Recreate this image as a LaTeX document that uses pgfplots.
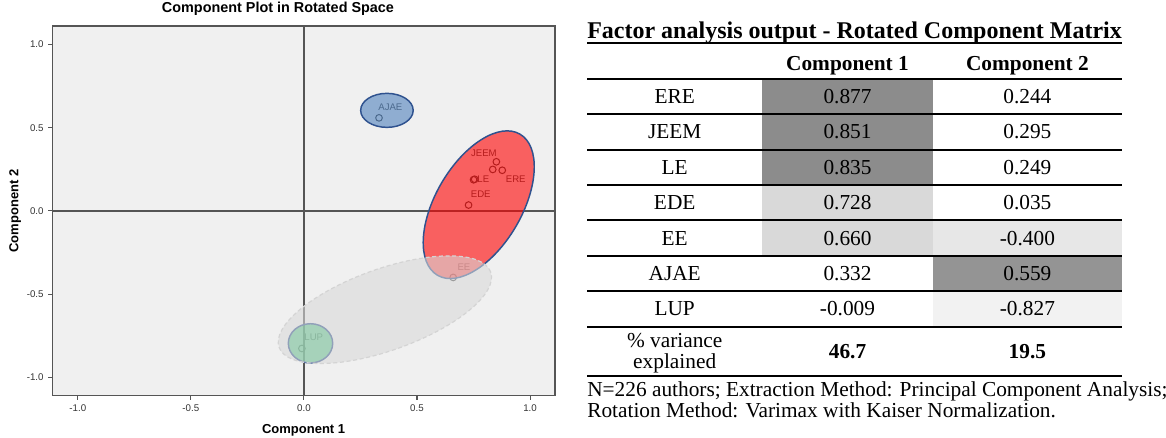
\documentclass[border=0pt]{standalone}
\usepackage{pgfplots}
\pgfplotsset{compat=1.18}
\usepackage{fontspec}
\setmainfont{Liberation Serif}
\newfontfamily\arial{Liberation Sans}
\usetikzlibrary{shapes.geometric}
\definecolor{bgc}{RGB}{240,240,240}
\definecolor{frm}{RGB}{85,85,85}
\definecolor{ptc}{RGB}{70,70,70}
\definecolor{olblue}{RGB}{47,82,143}
\definecolor{fblue}{RGB}{79,129,189}
\definecolor{fgreen}{RGB}{0,176,80}
\definecolor{fgray}{RGB}{217,217,217}
\definecolor{dgray}{RGB}{212,212,212}
\definecolor{sdark}{RGB}{140,140,140}
\definecolor{sdarkb}{RGB}{148,148,148}
\definecolor{smid}{RGB}{217,217,217}
\definecolor{slight}{RGB}{231,231,231}
\definecolor{svlight}{RGB}{242,242,242}
\pgfplotsset{myframe/.style={
  at={(39.2pt,-296.8pt)}, anchor=south west,
  scale only axis, width=377pt, height=277.3pt,
  xmin=-1.113, xmax=1.110, ymin=-1.111, ymax=1.111}}
\begin{document}
\begin{tikzpicture}
\path[use as bounding box] (0,0) rectangle (874.5pt,-328.5pt);
\begin{axis}[
  myframe,
  axis background/.style={fill=bgc},
  axis line style={draw=frm, line width=1.1pt},
  xtick={-1,-0.5,0,0.5,1}, ytick={-1,-0.5,0,0.5,1},
  xticklabels={-1.0,-0.5,0.0,0.5,1.0},
  yticklabels={-1.0,-0.5,0.0,0.5,1.0},
  xtick pos=bottom, ytick pos=left,
  tick align=outside, major tick length=3pt,
  tick style={draw=frm, line width=0.8pt},
  ticklabel style={font=\arial\fontsize{7.3}{8}\selectfont, text=black!80},
  title={Component Plot in Rotated Space},
  title style={font=\arial\bfseries\fontsize{10.8}{12}\selectfont, at={(axis description cs:0.449,1.0162)}, anchor=base},
  xlabel={Component 1},
  xlabel style={font=\arial\bfseries\fontsize{9.75}{11}\selectfont, at={(axis description cs:0.5,-0.1017)}, anchor=base},
  ylabel={Component 2},
  ylabel style={font=\arial\bfseries\fontsize{9.75}{11}\selectfont, at={(axis description cs:-0.0676,0.5)}, anchor=base, rotate=0},
  clip=true,
]
\draw[frm, line width=1pt] (axis cs:0,-1.2) -- (axis cs:0,1.2);
\draw[frm, line width=1pt] (axis cs:-1.2,0) -- (axis cs:1.2,0);
\addplot[only marks, mark=o, mark size=2.5pt, mark options={draw=ptc, line width=0.75pt}]
  coordinates {(0.877,0.244)(0.851,0.295)(0.835,0.249)(0.728,0.035)(0.660,-0.400)(0.332,0.559)(-0.009,-0.827)(0.750,0.187)(0.755,0.190)};
\begin{scope}[every node/.style={anchor=west, inner sep=0pt, font=\arial\fontsize{7.2}{8}\selectfont, text=ptc}]
\node at (axis cs:0.738,0.349) {JEEM};
\node at (axis cs:0.766,0.189) {LE};
\node at (axis cs:0.892,0.189) {ERE};
\node at (axis cs:0.737,0.099) {EDE};
\node at (axis cs:0.678,-0.341) {EE};
\node at (axis cs:0.328,0.622) {AJAE};
\node at (axis cs:0.001,-0.758) {LUP};
\end{scope}
\end{axis}
\begin{axis}[myframe, hide axis, clip=true]
\node[ellipse, draw=olblue, line width=1.1pt, fill=red, fill opacity=0.6, inner sep=0pt, outer sep=0pt, minimum width=122.6pt, minimum height=64.6pt, rotate=59.7] at (axis cs:0.773,0.037) {};
\node[ellipse, draw=olblue, line width=1.1pt, fill=fblue, fill opacity=0.6, inner sep=0pt, outer sep=0pt, minimum width=39.4pt, minimum height=25.5pt] at (axis cs:0.367,0.604) {};
\node[ellipse, draw=olblue, line width=1.1pt, fill=fgreen, fill opacity=0.6, inner sep=0pt, outer sep=0pt, minimum width=33.3pt, minimum height=29.4pt] at (axis cs:0.029,-0.796) {};
\node[ellipse, draw=dgray, line width=0.9pt, dash pattern=on 3pt off 2pt, fill=fgray, fill opacity=0.58, inner sep=0pt, outer sep=0pt, minimum width=168.4pt, minimum height=61.2pt, rotate=19.6] at (axis cs:0.358,-0.594) {};
\end{axis}
\begin{scope}[x=0.75pt, y=-0.75pt]
% shading
\fill[sdark] (762.3,79) rectangle (932.7,185);
\fill[smid] (762.3,185) rectangle (932.7,255.7);
\fill[slight] (932.7,220.3) rectangle (1122,255.7);
\fill[sdarkb] (932.7,255.7) rectangle (1122,291);
\fill[svlight] (932.7,291) rectangle (1122,326.7);
% rules
\draw[line width=1.4pt] (587,43.3) -- (1122,43.3);
\draw[line width=1.6pt] (587,79) -- (1122,79);
\foreach \yy in {114.3,149.7,185,220.3,255.7,291,326.7,376}
  \draw[line width=1.3pt] (587,\yy) -- (1122,\yy);
% title
\node[anchor=base west, inner sep=0pt, font=\bfseries\fontsize{18}{20}\selectfont] at (587,38.3) {Factor analysis output - Rotated Component Matrix};
\begin{scope}[every node/.style={anchor=base, inner sep=0pt, font=\fontsize{16}{18}\selectfont}]
\node[font=\bfseries\fontsize{16}{18}\selectfont] at (847.5,70.3) {Component 1};
\node[font=\bfseries\fontsize{16}{18}\selectfont] at (1027.4,70.3) {Component 2};
\node at (674.7,103.7) {ERE};  \node at (847.5,103.7) {0.877};  \node at (1027.4,103.7) {0.244};
\node at (674.7,139.0) {JEEM}; \node at (847.5,139.0) {0.851};  \node at (1027.4,139.0) {0.295};
\node at (674.7,174.4) {LE};   \node at (847.5,174.4) {0.835};  \node at (1027.4,174.4) {0.249};
\node at (674.7,209.7) {EDE};  \node at (847.5,209.7) {0.728};  \node at (1027.4,209.7) {0.035};
\node at (674.7,245.0) {EE};   \node at (847.5,245.0) {0.660};  \node at (1027.4,245.0) {-0.400};
\node at (674.7,280.4) {AJAE}; \node at (847.5,280.4) {0.332};  \node at (1027.4,280.4) {0.559};
\node at (674.7,315.9) {LUP};  \node at (847.5,315.9) {-0.009}; \node at (1027.4,315.9) {-0.827};
\node at (674.7,347.0) {\% variance};
\node at (674.7,368.5) {explained};
\node[font=\bfseries\fontsize{16}{18}\selectfont] at (847.5,358.5) {46.7};
\node[font=\bfseries\fontsize{16}{18}\selectfont] at (1027.4,358.5) {19.5};
\end{scope}
\node[anchor=base west, inner sep=0pt, font=\fontsize{16}{18}\selectfont] at (587,396.7) {N=226 authors; Extraction Method: Principal Component Analysis;};
\node[anchor=base west, inner sep=0pt, font=\fontsize{16}{18}\selectfont] at (587,417.7) {Rotation Method: Varimax with Kaiser Normalization.};
\end{scope}
\end{tikzpicture}
\end{document}
